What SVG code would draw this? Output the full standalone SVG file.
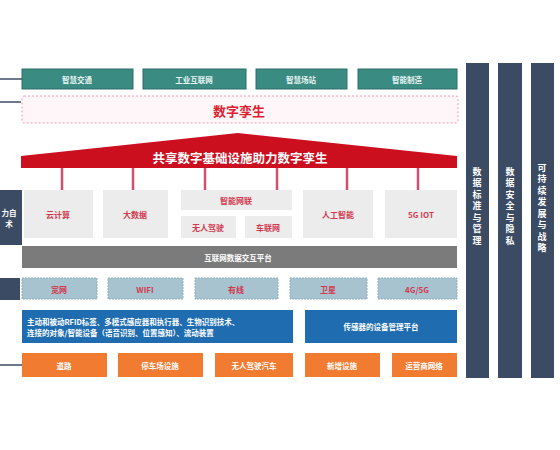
<svg xmlns="http://www.w3.org/2000/svg" width="560" height="450" viewBox="0 0 560 450">
<style>
text{font-family:"Noto Sans CJK SC","Noto Sans",sans-serif;text-anchor:middle;dominant-baseline:central}
.teal{fill:#3a8b82;stroke:#2d6f68;stroke-width:1}
.tw{fill:#e8f4f2;font-size:7.5px;font-weight:bold}
.gray{fill:#ececec}
.rt{fill:#d23a50;font-size:8px;font-weight:bold}
.lb{fill:#a6c3cf;stroke:#8fb0bd;stroke-width:1;stroke-dasharray:2 1}
.blue{fill:#1f6db0}
.wt{fill:#ffffff;font-size:7.5px;font-weight:bold}
.org{fill:#f27b32}
.dark{fill:#3c4b64}
.stem{stroke:#d2506e;stroke-width:2.5}
.ln{stroke:#3c4b64;stroke-width:1.5}
.vt{fill:#ffffff;font-size:9px;font-weight:bold;writing-mode:vertical-rl;letter-spacing:2.5px}
</style>
<rect width="560" height="450" fill="#ffffff"/>
<g id="connectors">
<line class="ln" x1="0" y1="79" x2="22" y2="79"/>
<line class="ln" x1="0" y1="102" x2="21" y2="102"/>
<line class="ln" x1="0" y1="365" x2="22" y2="365"/>
<line class="stem" x1="62" y1="166" x2="62" y2="190"/>
<line class="stem" x1="133" y1="166" x2="133" y2="190"/>
<line class="stem" x1="205" y1="166" x2="205" y2="190"/>
<line class="stem" x1="277" y1="166" x2="277" y2="190"/>
<line class="stem" x1="347" y1="166" x2="347" y2="190"/>
<line class="stem" x1="418" y1="166" x2="418" y2="190"/>
</g>
<g id="apps">
<rect class="teal" x="22" y="69" width="111" height="20"/><text class="tw" x="77" y="79">智慧交通</text>
<rect class="teal" x="143" y="69" width="103" height="20"/><text class="tw" x="194" y="79">工业互联网</text>
<rect class="teal" x="256" y="69" width="91" height="20"/><text class="tw" x="301" y="79">智慧场站</text>
<rect class="teal" x="358" y="69" width="99" height="20"/><text class="tw" x="407" y="79">智能制造</text>
</g>
<g id="twin">
<rect x="22" y="96" width="436" height="27" rx="2" fill="#fff6f9" stroke="#ef9aae" stroke-width="1" stroke-dasharray="2 2"/>
<text x="239" y="110" fill="#e0202e" font-size="13" font-weight="bold">数字孪生</text>
</g>
<g id="roof">
<polygon points="21,156 238,133 457,156 457,168 21,168" fill="#cc0f1f"/>
<text x="240" y="157" fill="#ffffff" font-size="12.5" font-weight="bold">共享数字基础设施助力数字孪生</text>
</g>
<g id="left-panel">
<rect class="dark" x="0" y="190" width="22" height="55"/>
<text x="9" y="212" fill="#ffffff" font-size="7.5" font-weight="bold">力自</text>
<text x="9" y="223" fill="#ffffff" font-size="7.5" font-weight="bold">术</text>
</g>
<g id="tech">
<rect class="gray" x="24" y="190" width="69" height="48"/><text class="rt" x="58" y="214">云计算</text>
<rect class="gray" x="103" y="190" width="65" height="48"/><text class="rt" x="135" y="214">大数据</text>
<rect class="gray" x="181" y="190" width="111" height="20"/><text class="rt" x="236" y="200">智能网联</text>
<rect class="gray" x="181" y="216" width="55" height="22"/><text class="rt" x="208" y="227">无人驾驶</text>
<rect class="gray" x="245" y="216" width="47" height="22"/><text class="rt" x="268" y="227">车联网</text>
<rect class="gray" x="303" y="190" width="70" height="48"/><text class="rt" x="338" y="214">人工智能</text>
<rect class="gray" x="385" y="190" width="72" height="48"/><text class="rt" x="421" y="214">5G IOT</text>
</g>
<g id="platform">
<rect x="22" y="246" width="435" height="22" fill="#7b7b7b"/>
<text class="wt" x="238" y="257">互联网数据交互平台</text>
</g>
<g id="network">
<rect class="dark" x="0" y="278" width="20" height="22"/>
<rect class="lb" x="22" y="278" width="75" height="21"/><text class="rt" x="59" y="289">宽网</text>
<rect class="lb" x="108" y="278" width="75" height="21"/><text class="rt" x="145" y="289">WIFI</text>
<rect class="lb" x="195" y="278" width="83" height="21"/><text class="rt" x="236" y="289">有线</text>
<rect class="lb" x="290" y="278" width="77" height="21"/><text class="rt" x="328" y="289">卫星</text>
<rect class="lb" x="378" y="278" width="79" height="21"/><text class="rt" x="417" y="289">4G/5G</text>
</g>
<g id="sensing">
<rect class="blue" x="22" y="310" width="271" height="33"/>
<text class="wt" x="27" y="321" style="text-anchor:start">主动和被动RFID标签、多模式感应器和执行器、生物识别技术、</text>
<text class="wt" x="27" y="332" style="text-anchor:start">连接的对象/智能设备（语音识别、位置感知）、流动装置</text>
<rect class="blue" x="305" y="310" width="152" height="33"/>
<text class="wt" x="381" y="326">传感器的设备管理平台</text>
</g>
<g id="infra">
<rect class="org" x="22" y="353" width="85" height="24"/><text class="wt" x="64" y="365">道路</text>
<rect class="org" x="118" y="353" width="85" height="24"/><text class="wt" x="160" y="365">停车场设施</text>
<rect class="org" x="215" y="353" width="78" height="24"/><text class="wt" x="254" y="365">无人驾驶汽车</text>
<rect class="org" x="305" y="353" width="75" height="24"/><text class="wt" x="342" y="365">新增设施</text>
<rect class="org" x="392" y="353" width="65" height="24"/><text class="wt" x="424" y="365">运营商网络</text>
</g>
<g id="col-standard">
<rect class="dark" x="466" y="63" width="23" height="315"/>
<text class="vt" x="477" y="207">数据标准与管理</text>
</g>
<g id="col-security">
<rect class="dark" x="498" y="63" width="24" height="315"/>
<text class="vt" x="510" y="207">数据安全与隐私</text>
</g>
<g id="col-sustain">
<rect class="dark" x="531" y="63" width="23" height="315"/>
<text class="vt" x="542" y="209">可持续发展与战略</text>
</g>
</svg>
